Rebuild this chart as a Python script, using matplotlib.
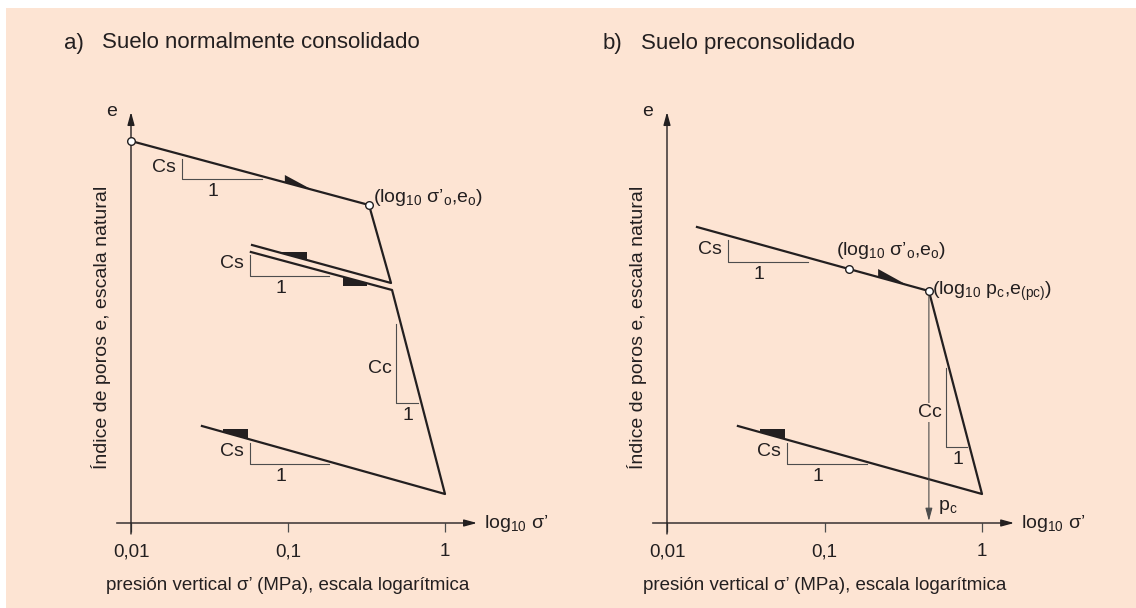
import numpy as np
import matplotlib.pyplot as plt
from matplotlib.patches import Rectangle
from matplotlib.ticker import NullLocator

plt.rcParams['font.family'] = ['Liberation Sans', 'DejaVu Sans']
plt.rcParams['mathtext.fontset'] = 'custom'
plt.rcParams['mathtext.rm'] = 'Liberation Sans'
plt.rcParams['mathtext.it'] = 'Liberation Sans:italic'
plt.rcParams['mathtext.bf'] = 'Liberation Sans:bold'

BG = '#fde4d3'
INK = '#231f20'
GREY = '#4d4d4d'
W, H = 1136, 608

# --- data: vertical effective stress sigma' (MPa) vs void ratio e ---
# a) normally consolidated soil
a_load_s = [0.01, 0.328, 0.453, 0.059]
a_load_e = [1.264, 1.136, 0.98, 1.056]
a_reload_s = [0.058, 0.46, 1.0, 0.0283]
a_reload_e = [1.042, 0.966, 0.558, 0.694]
a_pts_s = [0.01, 0.328]
a_pts_e = [1.264, 1.136]

# b) preconsolidated soil
b_curve_s = [0.0155, 0.143, 0.46, 1.0, 0.0282]
b_curve_e = [1.092, 1.008, 0.964, 0.558, 0.694]
b_pts_s = [0.143, 0.46]
b_pts_e = [1.008, 0.964]
pc = 0.46

# slope triangles: (sigma corner, sigma end, e corner, e top, label)
a_slopes = [(0.0211, 0.0683, 1.188, 1.228, 'Cs'),
            (0.0573, 0.1824, 0.994, 1.036, 'Cs'),
            (0.488, 0.673, 0.74, 0.898, 'Cc'),
            (0.0573, 0.1824, 0.618, 0.66, 'Cs')]
b_slopes = [(0.0244, 0.0786, 1.022, 1.066, 'Cs'),
            (0.59, 0.803, 0.652, 0.81, 'Cc'),
            (0.0578, 0.186, 0.618, 0.66, 'Cs')]

# direction marks: (segment s, segment e, sigma 1, sigma 2, e level, kind)
a_marks = [((0.01, 0.328), (1.264, 1.136), 0.0955, 0.1422, 1.196, 'tri'),
           ((0.453, 0.059), (0.98, 1.056), 0.0915, 0.1321, 1.042, 'flat'),
           ((0.058, 0.46), (1.042, 0.966), 0.224, 0.319, 0.974, 'flat'),
           ((1.0, 0.0283), (0.558, 0.694), 0.0385, 0.0556, 0.6874, 'flat')]
b_marks = [((0.143, 0.46), (1.008, 0.964), 0.219, 0.334, 1.008, 'tri'),
           ((1.0, 0.0282), (0.558, 0.694), 0.0389, 0.0561, 0.6874, 'flat')]

x_ticks = [0.01, 0.1, 1]
x_ticklabels = ['0,01', '0,1', '1']

AX_ARROW = dict(arrowstyle='-|>,head_length=0.55,head_width=0.15', color=INK,
                lw=1.0, shrinkA=0, shrinkB=0, mutation_scale=14)


def line_e(seg_s, seg_e, s):
    ls = np.log10(seg_s)
    order = np.argsort(ls)
    return np.interp(np.log10(s), ls[order], np.array(seg_e)[order])


def make_axes(fig, left_px, x0_px, decade_px):
    ax = fig.add_axes([left_px / W, (H - 570) / H, 500 / W, 480 / H])
    ax.set_xscale('log')
    ax.set_xlim(0.01 * 10 ** ((left_px - x0_px) / decade_px),
                0.01 * 10 ** ((left_px + 500 - x0_px) / decade_px))
    ax.set_ylim(0.406, 1.366)
    ax.patch.set_alpha(0)
    for sp in ax.spines.values():
        sp.set_visible(False)
    ax.spines['bottom'].set_position(('data', 0.5))
    ax.set_xticks(x_ticks)
    ax.set_xticklabels(x_ticklabels)
    ax.xaxis.set_minor_locator(NullLocator())
    ax.set_yticks([])
    ax.tick_params(axis='x', direction='out', length=6.5, width=0.9, color=GREY,
                   labelsize=13.5, labelcolor=INK, pad=8)

    # axes with arrows
    ax.annotate('', xy=(1.6, 0.5), xytext=(0.0081, 0.5), arrowprops=AX_ARROW,
                annotation_clip=False)
    ax.annotate('', xy=(0.01, 1.322), xytext=(0.01, 0.478), arrowprops=AX_ARROW,
                annotation_clip=False)
    ax.annotate('e', xy=(0.01, 1.322), xytext=(-19, 0), textcoords='offset pixels',
                ha='center', va='center', fontsize=14, color=INK)
    ax.annotate('log$_{10}$ σ’', xy=(1.6, 0.5), xytext=(7, -5), textcoords='offset pixels',
                ha='left', va='baseline', fontsize=14, color=INK)
    ax.annotate('Índice de poros e, escala natural', xy=(0.01, 0.892), xytext=(-30, 0),
                textcoords='offset pixels', rotation=90, ha='center', va='center',
                fontsize=14, color=INK)
    ax.annotate('presión vertical σ’ (MPa), escala logarítmica', xy=(0.1, 0.5),
                xytext=(0, -62), textcoords='offset pixels', ha='center', va='center',
                fontsize=13.5, color=INK)
    return ax


def draw_slopes(ax, slopes, cc_box=False):
    for s_c, s_end, e_c, e_top, lab in slopes:
        ax.plot([s_end, s_c, s_c], [e_c, e_c, e_top], color=GREY, lw=0.8, zorder=2)
        e_mid = (e_c + e_top) / 2
        if lab == 'Cs':
            ax.annotate('Cs', xy=(s_c, e_mid), xytext=(-6, 2), textcoords='offset pixels',
                        ha='right', va='center', fontsize=14, color=INK)
            one_dx = 31
        else:
            box = dict(boxstyle='square,pad=0.05', fc=BG, ec='none') if cc_box else None
            ax.annotate('Cc', xy=(s_c, e_mid), xytext=(-4, -5), textcoords='offset pixels',
                        ha='right', va='center', fontsize=14, color=INK, bbox=box, zorder=4)
            one_dx = 12
        ax.annotate('1', xy=(s_c, e_c), xytext=(one_dx, -12), textcoords='offset pixels',
                    ha='center', va='center', fontsize=14, color=INK)


def draw_marks(ax, marks):
    for seg_s, seg_e, s1, s2, lev, kind in marks:
        e1 = line_e(seg_s, seg_e, s1)
        e2 = line_e(seg_s, seg_e, s2)
        if kind == 'tri':
            xs, ys = [s1, s1, s2], [e1, lev, e2]
        else:
            xs, ys = [s1, s1, s2, s2], [e1, lev, lev, e2]
        ax.fill(xs, ys, color=INK, lw=0, zorder=3)


fig = plt.figure(figsize=(11.36, 6.08), dpi=100)
fig.patch.set_facecolor('white')
fig.add_artist(Rectangle((6 / W, 0), 1, 1 - 8 / H, transform=fig.transFigure,
                         facecolor=BG, edgecolor='none', zorder=-10))

# panel a
ax_a = make_axes(fig, 60, 131, 157)
ax_a.plot(a_load_s, a_load_e, color=INK, lw=1.6, zorder=3)
ax_a.plot(a_reload_s, a_reload_e, color=INK, lw=1.6, zorder=3)
draw_marks(ax_a, a_marks)
draw_slopes(ax_a, a_slopes)
ax_a.plot(a_pts_s, a_pts_e, 'o', ms=5.5, mfc='white', mec=INK, mew=1.0, zorder=6,
          clip_on=False)
ax_a.annotate('(log$_{10}$ σ’$_\\mathrm{o}$,e$_\\mathrm{o}$)', xy=(a_pts_s[1], a_pts_e[1]),
              xytext=(4, 3), textcoords='offset pixels', ha='left', va='baseline',
              fontsize=14, color=INK)

# panel b
ax_b = make_axes(fig, 596, 667, 157.5)
ax_b.plot(b_curve_s, b_curve_e, color=INK, lw=1.6, zorder=3)
draw_marks(ax_b, b_marks)
ax_b.annotate('', xy=(pc, 0.504), xytext=(pc, b_pts_e[1]),
              arrowprops=dict(arrowstyle='-|>,head_length=0.55,head_width=0.15', color=GREY,
                              lw=0.8, shrinkA=0, shrinkB=0, mutation_scale=14),
              annotation_clip=False)
draw_slopes(ax_b, b_slopes, cc_box=True)
ax_b.plot(b_pts_s, b_pts_e, 'o', ms=5.5, mfc='white', mec=INK, mew=1.0, zorder=6)
ax_b.annotate('(log$_{10}$ σ’$_\\mathrm{o}$,e$_\\mathrm{o}$)', xy=(b_pts_s[0], b_pts_e[0]),
              xytext=(-13, 14), textcoords='offset pixels', ha='left', va='baseline',
              fontsize=14, color=INK)
ax_b.annotate('(log$_{10}$ p$_\\mathrm{c}$,e$_\\mathrm{(pc)}$)', xy=(b_pts_s[1], b_pts_e[1]),
              xytext=(3, -4), textcoords='offset pixels', ha='left', va='baseline',
              fontsize=14, color=INK)
ax_b.annotate('p$_\\mathrm{c}$', xy=(pc, 0.5), xytext=(9, 13), textcoords='offset pixels',
              ha='left', va='baseline', fontsize=14, color=INK)

# titles
for x_px, txt in [(64, 'a)'), (102, 'Suelo normalmente consolidado'),
                  (603, 'b)'), (641, 'Suelo preconsolidado')]:
    fig.text(x_px / W, 1 - 43 / H, txt, ha='left', va='center', fontsize=16, color=INK)

fig.savefig('out.png', dpi=100, facecolor=fig.get_facecolor())
